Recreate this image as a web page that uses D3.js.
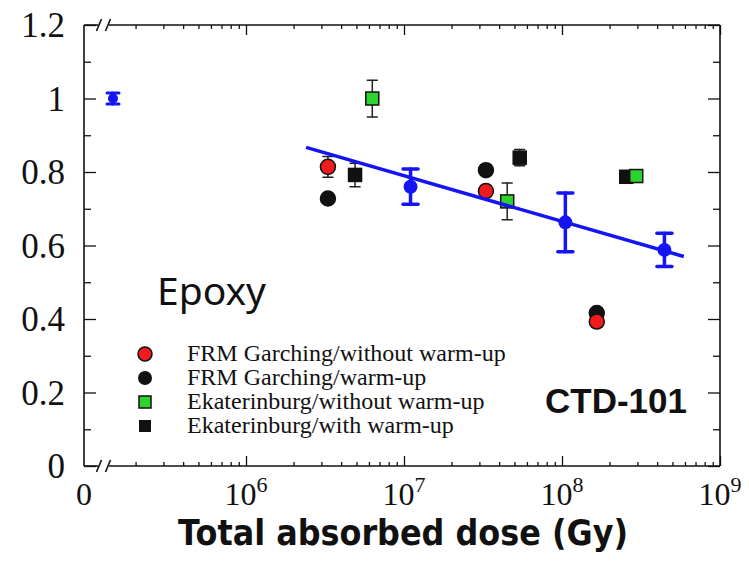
<!DOCTYPE html>
<html>
<head>
<meta charset="utf-8">
<script src="https://cdn.jsdelivr.net/npm/d3@7"></script>
<style>
  html, body { margin: 0; padding: 0; background: #fff; }
  svg { display: block; }
</style>
</head>
<body>
<svg id="chart" width="749" height="563"></svg>
<script>
// Normalised property vs. total absorbed dose, CTD-101 epoxy
const yTicks = [0, 0.2, 0.4, 0.6, 0.8, 1, 1.2];
const yTickLabels = ["0", "0.2", "0.4", "0.6", "0.8", "1", "1.2"];
const xMajorExps = [6, 7, 8, 9];

const frmNoWarmDose = [3.3e6, 3.3e7, 1.66e8];
const frmNoWarmVal  = [0.814, 0.748, 0.393];
const frmNoWarmErr  = [0.028, 0.015, 0.015];

const frmWarmDose = [3.3e6, 3.3e7, 1.66e8];
const frmWarmVal  = [0.728, 0.805, 0.416];

const ekatNoWarmDose = [6.3e6, 4.5e7, 2.95e8];
const ekatNoWarmVal  = [1.0, 0.72, 0.789];
const ekatNoWarmErr  = [0.05, 0.05, 0.012];

const ekatWarmDose = [4.9e6, 5.4e7, 2.55e8];
const ekatWarmVal  = [0.792, 0.839, 0.787];
const ekatWarmErr  = [0.032, 0.022, 0.015];

const epoxyDose = [1.1e7, 1.05e8, 4.45e8];
const epoxyVal  = [0.76, 0.663, 0.588];
const epoxyErr  = [0.048, 0.08, 0.045];
const epoxyZeroVal = 1.0;
const epoxyZeroErr = 0.015;

const fitDose = [2.4e6, 5.9e8];
const fitVal  = [0.867, 0.57];

const legendLabels = [
  "FRM Garching/without warm-up",
  "FRM Garching/warm-up",
  "Ekaterinburg/without warm-up",
  "Ekaterinburg/with warm-up"
];

const RED = "#f01c1c", GREEN = "#2ed42e", BLUE = "#1414f5";

const svg = d3.select("#chart");
const plotL = 84, plotR = 720, plotT = 25, plotB = 466;

const x = d3.scaleLog().domain([1e5, 1e9]).range([88, plotR]);
const xZero = d3.scalePoint().domain(["0"]).range([plotL, 142]);
const y = d3.scaleLinear().domain([0, 1.2]).range([plotB, plotT]);

// minor and major log ticks
const minorTicks = [];
for (let e = 5; e <= 8; e++) for (let m = 2; m <= 9; m++) minorTicks.push(m * Math.pow(10, e));
const majorTicks = xMajorExps.map(e => Math.pow(10, e));

function axisGroup(gen, tr) {
  const g = svg.append("g").attr("transform", tr).call(gen);
  g.select(".domain").remove();
  g.selectAll("text").remove();
  g.selectAll("line").attr("stroke", "#111").attr("stroke-width", 1.3);
  return g;
}
axisGroup(d3.axisBottom(x).tickValues(minorTicks).tickSize(-4), `translate(0,${plotB})`);
axisGroup(d3.axisBottom(x).tickValues(majorTicks).tickSize(-10), `translate(0,${plotB})`);
axisGroup(d3.axisTop(x).tickValues(minorTicks).tickSize(-4), `translate(0,${plotT})`);
axisGroup(d3.axisTop(x).tickValues(majorTicks).tickSize(-10), `translate(0,${plotT})`);

const yMinor = d3.range(0.1, 1.2, 0.2);
axisGroup(d3.axisLeft(y).tickValues(yTicks).tickSize(-12), `translate(${plotL},0)`);
axisGroup(d3.axisLeft(y).tickValues(yMinor).tickSize(-7), `translate(${plotL},0)`);
axisGroup(d3.axisRight(y).tickValues(yTicks).tickSize(-12), `translate(${plotR},0)`);
axisGroup(d3.axisRight(y).tickValues(yMinor).tickSize(-7), `translate(${plotR},0)`);

// frame with axis breaks
const frame = svg.append("g").attr("stroke", "#111").attr("stroke-width", 1.6).attr("fill", "none");
frame.append("line").attr("x1", plotL).attr("x2", plotL).attr("y1", plotT).attr("y2", plotB);
frame.append("line").attr("x1", plotR).attr("x2", plotR).attr("y1", plotT).attr("y2", plotB);
[plotT, plotB].forEach(ty => {
  frame.append("line").attr("x1", plotL).attr("x2", 98).attr("y1", ty).attr("y2", ty);
  frame.append("line").attr("x1", 109).attr("x2", plotR).attr("y1", ty).attr("y2", ty);
  [99, 108].forEach(bx => {
    frame.append("line").attr("x1", bx - 2.5).attr("x2", bx + 2.5)
      .attr("y1", ty + 6).attr("y2", ty - 6);
  });
});

// tick labels
const serif = "'Liberation Serif', 'Times New Roman', serif";
svg.append("g").selectAll("text").data(yTicks).join("text")
  .attr("x", 65).attr("y", d => y(d)).attr("dy", "0.35em")
  .attr("text-anchor", "end").attr("font-family", serif).attr("font-size", 35)
  .attr("fill", "#111")
  .text((d, i) => yTickLabels[i]);

svg.append("text").attr("x", plotL).attr("y", 505).attr("text-anchor", "middle")
  .attr("font-family", serif).attr("font-size", 32).attr("fill", "#111").text("0");
const xl = svg.append("g").selectAll("text").data(xMajorExps).join("text")
  .attr("x", d => x(Math.pow(10, d))).attr("y", 505).attr("text-anchor", "middle")
  .attr("font-family", serif).attr("font-size", 32).attr("fill", "#111");
xl.append("tspan").text("10");
xl.append("tspan").attr("dy", -13).attr("font-size", 22).text(d => d);

// axis title
svg.append("text").attr("x", 403).attr("y", 545).attr("text-anchor", "middle")
  .attr("font-family", "'DejaVu Sans', sans-serif").attr("font-weight", "bold")
  .attr("font-size", 35).attr("textLength", 450).attr("lengthAdjust", "spacingAndGlyphs")
  .attr("fill", "#111").text("Total absorbed dose (Gy)");

// error bars
function errorBars(dose, val, err, color, width, capW) {
  const g = svg.append("g").attr("stroke", color).attr("stroke-width", width)
    .attr("stroke-linecap", "round");
  dose.forEach((d, i) => {
    const cx = x(d);
    g.append("line").attr("x1", cx).attr("x2", cx).attr("y1", y(val[i] - err[i])).attr("y2", y(val[i] + err[i]));
    [val[i] - err[i], val[i] + err[i]].forEach(v => {
      g.append("line").attr("x1", cx - capW / 2).attr("x2", cx + capW / 2).attr("y1", y(v)).attr("y2", y(v));
    });
  });
}
errorBars(frmNoWarmDose, frmNoWarmVal, frmNoWarmErr, "#222", 1.5, 10);
errorBars(ekatNoWarmDose, ekatNoWarmVal, ekatNoWarmErr, "#222", 1.5, 10);
errorBars(ekatWarmDose, ekatWarmVal, ekatWarmErr, "#222", 1.5, 10);

function circles(dose, val, fill, r) {
  svg.append("g").selectAll("circle").data(dose).join("circle")
    .attr("cx", d => x(d)).attr("cy", (d, i) => y(val[i])).attr("r", r)
    .attr("fill", fill).attr("stroke", "#111").attr("stroke-width", 1.5);
}
function squares(dose, val, fill, s) {
  svg.append("g").selectAll("rect").data(dose).join("rect")
    .attr("x", d => x(d) - s / 2).attr("y", (d, i) => y(val[i]) - s / 2)
    .attr("width", s).attr("height", s)
    .attr("fill", fill).attr("stroke", "#111").attr("stroke-width", 1.5);
}
circles(frmWarmDose, frmWarmVal, "#111", 7.5);
circles(frmNoWarmDose, frmNoWarmVal, RED, 7.5);
squares(ekatWarmDose, ekatWarmVal, "#111", 13);
squares(ekatNoWarmDose, ekatNoWarmVal, GREEN, 13);

// epoxy points and fit
errorBars(epoxyDose, epoxyVal, epoxyErr, BLUE, 3.5, 15);
svg.append("g").selectAll("circle").data(epoxyDose).join("circle")
  .attr("cx", d => x(d)).attr("cy", (d, i) => y(epoxyVal[i])).attr("r", 7)
  .attr("fill", BLUE);
const zx = xZero("0");
const zg = svg.append("g").attr("stroke", BLUE).attr("stroke-width", 3).attr("stroke-linecap", "round");
zg.append("line").attr("x1", zx).attr("x2", zx).attr("y1", y(epoxyZeroVal - epoxyZeroErr)).attr("y2", y(epoxyZeroVal + epoxyZeroErr));
[epoxyZeroVal - epoxyZeroErr, epoxyZeroVal + epoxyZeroErr].forEach(v =>
  zg.append("line").attr("x1", zx - 6).attr("x2", zx + 6).attr("y1", y(v)).attr("y2", y(v)));
svg.append("circle").attr("cx", zx).attr("cy", y(epoxyZeroVal)).attr("r", 5)
  .attr("fill", BLUE);

svg.append("path")
  .datum(fitDose.map((d, i) => [d, fitVal[i]]))
  .attr("d", d3.line().x(d => x(d[0])).y(d => y(d[1])))
  .attr("fill", "none").attr("stroke", BLUE).attr("stroke-width", 3.5);

// labels
svg.append("text").attr("x", 157).attr("y", 305)
  .attr("font-family", "'Noto Sans', 'Open Sans', sans-serif").attr("font-size", 39)
  .attr("fill", "#111").text("Epoxy");
svg.append("text").attr("x", 545).attr("y", 413)
  .attr("font-family", "'Liberation Sans', Arial, sans-serif").attr("font-weight", "bold")
  .attr("font-size", 35).attr("fill", "#111").text("CTD-101");

// legend
const legY = [354, 378, 402, 426];
const lg = svg.append("g");
lg.append("circle").attr("cx", 145).attr("cy", legY[0]).attr("r", 7).attr("fill", RED).attr("stroke", "#111").attr("stroke-width", 1.5);
lg.append("circle").attr("cx", 145).attr("cy", legY[1]).attr("r", 7).attr("fill", "#111");
lg.append("rect").attr("x", 139).attr("y", legY[2] - 6).attr("width", 12).attr("height", 12).attr("fill", GREEN).attr("stroke", "#111").attr("stroke-width", 1.5);
lg.append("rect").attr("x", 139).attr("y", legY[3] - 6).attr("width", 12).attr("height", 12).attr("fill", "#111");
lg.selectAll("text").data(legendLabels).join("text")
  .attr("x", 187).attr("y", (d, i) => legY[i] + 7)
  .attr("font-family", serif).attr("font-size", 24).attr("fill", "#111")
  .text(d => d);
</script>
</body>
</html>
